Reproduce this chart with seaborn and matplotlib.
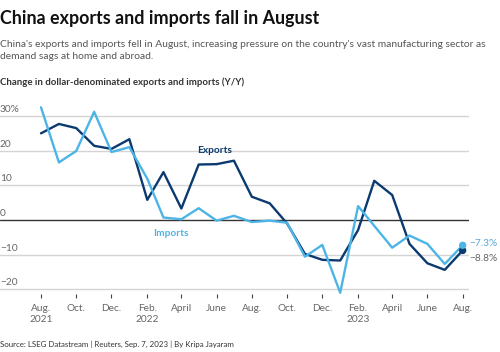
import pandas as pd
import matplotlib.pyplot as plt
import seaborn as sns

sns.set_theme(style="white")
plt.rcParams['font.family'] = ['Lato', 'DejaVu Sans']
plt.rcParams['axes.unicode_minus'] = True

months = pd.date_range('2021-08-01', periods=25, freq='MS')
exports = [25.0, 27.7, 26.5, 21.4, 20.5, 23.3, 5.8, 13.8, 3.3, 16.0, 16.1, 17.1,
           6.7, 4.8, -1.0, -9.8, -11.5, -11.7, -2.9, 11.3, 7.2, -6.9, -12.5, -14.4, -8.8]
imports = [32.5, 16.6, 19.9, 31.2, 19.6, 21.0, 11.9, 0.7, 0.2, 3.4, -0.2, 1.2,
           -0.6, -0.2, -0.8, -10.6, -7.2, -21.0, 4.0, -1.7, -8.0, -4.5, -6.9, -12.7, -7.3]
yticks = [-20, -10, 0, 10, 20, 30]
ytick_labels = ['\u221220', '\u221210', '0', '10', '20', '30%']
xtick_labels = ['Aug.\n2021', 'Oct.', 'Dec.', 'Feb.\n2022', 'April', 'June', 'Aug.',
                'Oct.', 'Dec.', 'Feb.\n2023', 'April', 'June', 'Aug.']

df = pd.DataFrame({'month': months, 'Exports': exports, 'Imports': imports})
long = df.melt(id_vars='month', var_name='series', value_name='value')

dark = '#0b3a6f'
light = '#4db4e6'
palette = {'Exports': dark, 'Imports': light}

fig = plt.figure(figsize=(5, 3.52), dpi=100)
ax = fig.add_axes([0, 0.1634, 0.938, 0.5465])

for y in yticks:
    ax.axhline(y, color='#333333' if y == 0 else '#d4d4d4', lw=1.0, zorder=1)

sns.lineplot(data=long, x='month', y='value', hue='series', palette=palette,
             linewidth=1.7, legend=False, ax=ax, zorder=3)
last = long[long['month'] == months[-1]]
sns.scatterplot(data=last, x='month', y='value', hue='series', palette=palette,
                s=28, edgecolor='none', legend=False, ax=ax, zorder=4)

ax.set_xlim(months[0] - pd.Timedelta(days=71), months[-1] + pd.Timedelta(days=11))
ax.set_ylim(-21.5, 34)
ax.set_xticks(months[::2])
ax.set_xticklabels(xtick_labels, fontsize=7.3, color='#666666', linespacing=1.3)
ax.tick_params(axis='x', length=3, width=0.8, color='#444444', pad=4, bottom=True)
ax.set_yticks([])
for s in ax.spines.values():
    s.set_visible(False)
ax.set_xlabel('')
ax.set_ylabel('')

for y, lab in zip(yticks, ytick_labels):
    ax.annotate(lab, xy=(0, y), xycoords=ax.get_yaxis_transform(), xytext=(0, 1.5),
                textcoords='offset points', fontsize=7.3, color='#666666',
                ha='left', va='bottom')

ax.text(pd.Timestamp('2022-05-28'), 19.9, 'Exports', color=dark, fontsize=7.3,
        fontweight='bold', ha='center', va='center')
ax.text(pd.Timestamp('2022-03-14'), -4.0, 'Imports', color=light, fontsize=7.3,
        fontweight='bold', ha='center', va='center')

ax.annotate('\u22127.3%', xy=(months[-1], imports[-1]), xytext=(5, 1),
            textcoords='offset points', fontsize=7.3, color='#5aa6d2',
            ha='left', va='center', annotation_clip=False)
ax.annotate('\u22128.8%', xy=(months[-1], exports[-1]), xytext=(5, -6),
            textcoords='offset points', fontsize=7.3, color='#666666',
            ha='left', va='center', annotation_clip=False)

fig.text(0.0, 0.948, 'China exports and imports fall in August', fontsize=12.9,
         fontweight='bold', color='#111111', ha='left', va='center')
fig.text(0.0, 0.856, "China's exports and imports fell in August, increasing pressure on the country's vast manufacturing sector as\ndemand sags at home and abroad.",
         fontsize=7.4, color='#555555', ha='left', va='center', linespacing=1.35)
fig.text(0.0, 0.767, 'Change in dollar-denominated exports and imports (Y/Y)', fontsize=6.9,
         fontweight='bold', color='#333333', ha='left', va='center')
fig.text(0.0, 0.022, 'Source: LSEG Datastream | Reuters, Sep. 7, 2023 | By Kripa Jayaram',
         fontsize=5.65, color='#333333', ha='left', va='center')

fig.savefig('out.png', dpi=100, facecolor='white')
